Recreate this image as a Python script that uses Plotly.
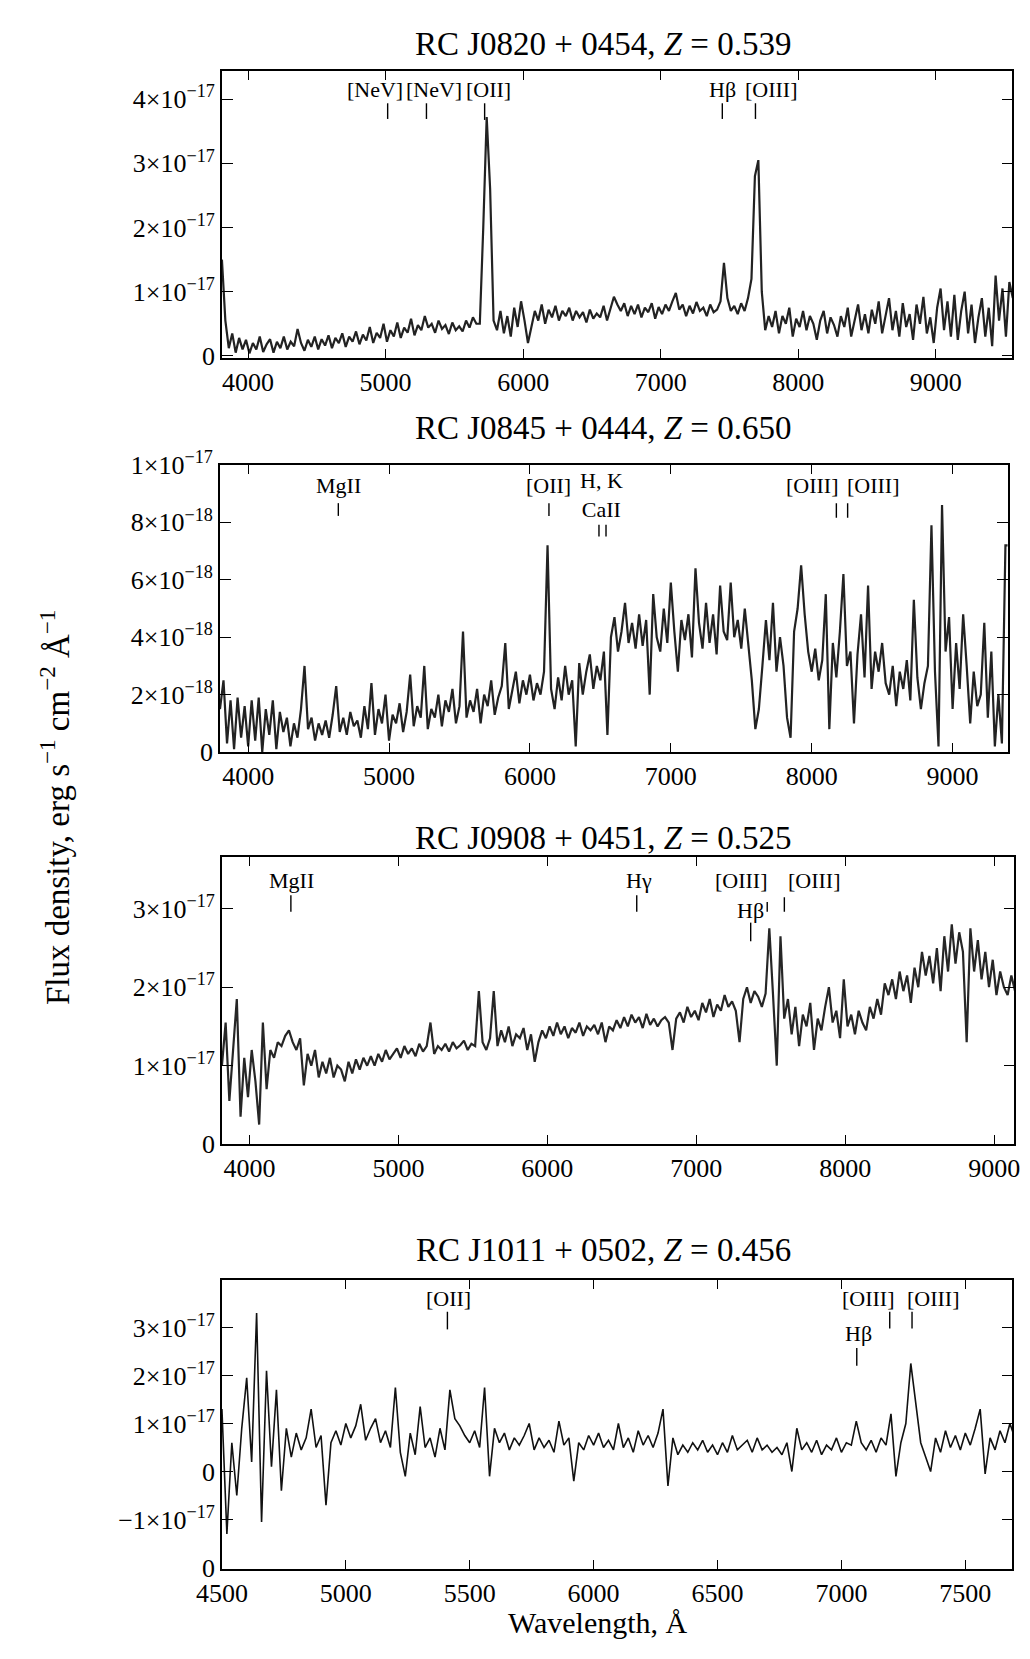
import numpy as np
import plotly.graph_objects as go

W, H = 1030, 1659
FONT = "Liberation Serif"

# ---------------- data ----------------
# Panel 1: RC J0820+0454, flux in 1e-17, grid start 3810 A, step 25 A
p1_start, p1_step = 3810, 25
p1_flux = [
    1.50, 0.55, 0.12, 0.35, 0.05, 0.28, 0.10, 0.25, 0.04, 0.20,
    0.10, 0.30, 0.06, 0.18, 0.26, 0.05, 0.22, 0.12, 0.30, 0.10,
    0.22, 0.15, 0.42, 0.20, 0.08, 0.25, 0.14, 0.30, 0.10, 0.26,
    0.16, 0.32, 0.12, 0.28, 0.20, 0.35, 0.14, 0.30, 0.22, 0.38,
    0.18, 0.33, 0.24, 0.45, 0.20, 0.36, 0.28, 0.50, 0.22, 0.40,
    0.30, 0.52, 0.28, 0.44, 0.36, 0.58, 0.32, 0.48, 0.40, 0.62,
    0.44, 0.50, 0.36, 0.55, 0.42, 0.48, 0.34, 0.52, 0.40, 0.46,
    0.38, 0.55, 0.44, 0.60, 0.50, 0.50, 2.00, 3.72, 2.60, 0.55,
    0.40, 0.70, 0.35, 0.62, 0.30, 0.75, 0.45, 0.85, 0.55, 0.20,
    0.45, 0.70, 0.55, 0.80, 0.50, 0.72, 0.60, 0.78, 0.55, 0.70,
    0.62, 0.75, 0.55, 0.70, 0.60, 0.68, 0.52, 0.72, 0.58, 0.66,
    0.60, 0.78, 0.55, 0.72, 0.92, 0.80, 0.70, 0.82, 0.62, 0.78,
    0.65, 0.80, 0.60, 0.75, 0.68, 0.82, 0.58, 0.76, 0.65, 0.80,
    0.70, 0.85, 0.98, 0.72, 0.80, 0.62, 0.78, 0.66, 0.84, 0.70,
    0.75, 0.62, 0.80, 0.68, 0.72, 0.85, 1.45, 0.90, 0.70, 0.78,
    0.65, 0.82, 0.70, 0.90, 1.20, 2.80, 3.05, 1.00, 0.40, 0.62,
    0.45, 0.70, 0.35, 0.62, 0.50, 0.75, 0.30, 0.58, 0.45, 0.70,
    0.40, 0.62, 0.50, 0.25, 0.55, 0.70, 0.35, 0.60, 0.48, 0.30,
    0.62, 0.45, 0.75, 0.30, 0.58, 0.80, 0.40, 0.65, 0.35, 0.72,
    0.50, 0.85, 0.35, 0.60, 0.90, 0.40, 0.70, 0.30, 0.82, 0.45,
    0.65, 0.25, 0.80, 0.50, 0.92, 0.35, 0.60, 0.20, 0.75, 1.05,
    0.40, 0.85, 0.30, 0.95, 0.25, 0.70, 1.00, 0.35, 0.80, 0.20,
    0.60, 0.90, 0.30, 0.75, 0.15, 1.25, 0.55, 1.05, 0.30, 1.15,
    0.90,
]
p1_lines_wl = [5015, 5297, 5720, 7448, 7689]

# Panel 2: RC J0845+0444, flux in 1e-18, grid start 3800 A, step 25 A
p2_start, p2_step = 3800, 25
p2_flux = [
    1.5, 2.5, 0.3, 1.8, 0.1, 1.9, 0.5, 1.6, 0.2, 1.8,
    0.4, 1.9, 0.0, 1.5, 0.6, 1.8, 0.1, 1.4, 0.7, 1.2,
    0.2, 1.0, 0.5, 1.5, 3.0, 0.8, 1.2, 0.4, 1.0, 0.6,
    1.1, 0.5, 1.3, 2.3, 0.7, 1.2, 0.6, 1.4, 0.9, 1.1,
    0.5, 1.6, 0.8, 2.4, 0.6, 1.5, 1.0, 2.0, 0.4, 1.3,
    1.0, 1.7, 0.7, 1.4, 2.7, 0.9, 1.6, 1.2, 3.0, 0.8,
    1.5, 1.2, 2.0, 0.9, 1.8, 1.4, 2.2, 1.0, 1.6, 4.2,
    1.2, 1.8, 1.4, 2.2, 1.0, 2.0, 1.6, 2.5, 1.3, 1.9,
    2.3, 3.8, 1.5, 2.2, 2.8, 1.7, 2.5, 2.0, 2.7, 1.8,
    2.4, 2.0, 2.8, 7.2, 2.2, 1.5, 2.6, 1.8, 3.0, 2.0,
    2.5, 0.2, 3.1, 2.0, 2.8, 3.4, 2.2, 3.0, 2.5, 3.5,
    0.6, 4.0, 4.7, 3.5, 4.2, 5.2, 3.8, 4.5, 3.6, 4.8,
    3.7, 4.6, 2.0, 5.5, 4.0, 3.5, 5.0, 3.8, 5.9, 4.2,
    2.8, 4.6, 3.9, 4.8, 3.3, 6.4, 4.5, 3.6, 5.2, 3.8,
    4.8, 3.4, 5.8, 4.2, 3.9, 5.9, 4.0, 4.6, 3.6, 5.0,
    3.8, 2.5, 0.8, 1.5, 3.0, 4.6, 3.2, 5.2, 2.8, 4.0,
    3.0, 1.2, 0.5, 4.2, 5.0, 6.5, 4.8, 3.5, 2.8, 3.6,
    2.5, 3.2, 5.5, 0.8, 3.8, 2.6, 4.2, 6.2, 3.0, 3.5,
    1.0, 3.4, 4.8, 2.6, 5.8, 2.2, 3.5, 2.8, 3.8, 2.4,
    2.0, 3.0, 1.6, 2.8, 2.2, 3.2, 1.8, 5.3, 2.6, 1.5,
    2.4, 3.0, 7.9, 2.8, 0.2, 8.6, 3.5, 4.7, 1.5, 3.8,
    2.2, 4.8, 3.0, 1.0, 2.8, 1.6, 2.0, 4.5, 1.2, 3.5,
    0.2, 2.0, 0.3, 7.2, 7.2,
]
p2_lines_wl = [4640, 6135, 6490, 6540, 8175, 8255]

# Panel 3: RC J0908+0451, flux in 1e-17, grid start 3815 A, step 25 A
p3_start, p3_step = 3815, 25
p3_flux = [
    1.00, 1.55, 0.55, 1.20, 1.85, 0.35, 1.10, 0.60, 1.20, 0.80,
    0.25, 1.55, 0.70, 1.20, 1.10, 1.30, 1.25, 1.38, 1.45, 1.30,
    1.20, 1.35, 0.75, 1.15, 1.00, 1.20, 0.85, 1.05, 0.90, 1.10,
    0.85, 1.00, 0.95, 0.80, 1.05, 0.90, 1.08, 0.95, 1.10, 1.00,
    1.12, 1.00, 1.15, 1.05, 1.20, 1.08, 1.15, 1.22, 1.10, 1.25,
    1.15, 1.22, 1.12, 1.28, 1.18, 1.25, 1.55, 1.15, 1.25, 1.20,
    1.28, 1.18, 1.30, 1.22, 1.26, 1.32, 1.20, 1.28, 1.25, 1.95,
    1.30, 1.20, 1.35, 1.95, 1.25, 1.45, 1.30, 1.50, 1.25, 1.40,
    1.35, 1.48, 1.20, 1.40, 1.05, 1.30, 1.45, 1.35, 1.50, 1.38,
    1.55, 1.40, 1.50, 1.35, 1.48, 1.42, 1.55, 1.38, 1.50, 1.45,
    1.52, 1.40, 1.55, 1.30, 1.50, 1.45, 1.58, 1.48, 1.62, 1.50,
    1.65, 1.55, 1.62, 1.48, 1.66, 1.52, 1.60, 1.50, 1.58, 1.62,
    1.55, 1.20, 1.60, 1.68, 1.55, 1.75, 1.62, 1.70, 1.58, 1.80,
    1.68, 1.85, 1.62, 1.78, 1.70, 1.90, 1.75, 1.82, 1.70, 1.30,
    1.85, 2.00, 1.80, 1.95, 1.88, 1.75, 1.92, 2.75, 1.90, 1.00,
    2.65, 1.60, 1.85, 1.40, 1.75, 1.25, 1.65, 1.50, 1.80, 1.20,
    1.60, 1.45, 1.75, 2.00, 1.55, 1.70, 1.35, 2.10, 1.50, 1.65,
    1.40, 1.70, 1.55, 1.45, 1.75, 1.60, 1.85, 1.65, 2.05, 1.90,
    2.10, 1.85, 2.20, 1.95, 2.15, 1.80, 2.25, 2.00, 2.45, 2.15,
    2.40, 2.05, 2.50, 1.95, 2.65, 2.20, 2.80, 2.30, 2.70, 2.45,
    1.30, 2.75, 2.20, 2.60, 2.10, 2.45, 2.00, 2.35, 1.90, 2.20,
    2.00, 1.90, 2.15, 1.95,
]
p3_lines_wl = [4278, 6600, 7365, 7476, 7591]

# Panel 4: RC J1011+0502, flux in 1e-17, grid start 4500 A, step 20 A
p4_start, p4_step = 4500, 20
p4_flux = [
    1.30, -1.30, 0.60, -0.50, 0.90, 1.95, 0.20, 3.30, -1.05, 2.10,
    0.10, 1.70, -0.40, 0.90, 0.30, 0.80, 0.45, 0.70, 1.30, 0.50,
    0.75, -0.70, 0.60, 0.85, 0.55, 1.00, 0.70, 0.95, 1.40, 0.65,
    0.90, 1.10, 0.60, 0.85, 0.50, 1.75, 0.40, -0.10, 0.80, 0.35,
    1.35, 0.50, 0.70, 0.30, 0.90, 0.45, 1.70, 1.10, 0.95, 0.75,
    0.60, 0.85, 0.50, 1.75, -0.10, 0.90, 0.60, 0.80, 0.45, 0.70,
    0.55, 0.75, 1.00, 0.45, 0.70, 0.50, 0.65, 0.40, 1.05, 0.55,
    0.70, -0.20, 0.60, 0.45, 0.75, 0.55, 0.80, 0.50, 0.65, 0.45,
    1.00, 0.50, 0.70, 0.40, 0.85, 0.55, 0.75, 0.50, 0.80, 1.30,
    -0.30, 0.70, 0.35, 0.55, 0.40, 0.60, 0.45, 0.65, 0.40, 0.55,
    0.35, 0.60, 0.40, 0.75, 0.45, 0.55, 0.65, 0.40, 0.70, 0.45,
    0.55, 0.40, 0.50, 0.35, 0.60, 0.00, 0.90, 0.45, 0.60, 0.40,
    0.65, 0.35, 0.55, 0.45, 0.70, 0.40, 0.60, 0.55, 1.05, 0.60,
    0.45, 0.65, 0.40, 0.70, 0.55, 1.20, -0.10, 0.60, 1.00, 2.25,
    1.40, 0.60, 0.30, 0.00, 0.70, 0.40, 0.85, 0.50, 0.75, 0.45,
    0.80, 0.55, 0.90, 1.30, -0.05, 0.70, 0.45, 0.85, 0.60, 1.00,
    0.70,
]
p4_lines_wl = [5410, 7062, 7195, 7285]

titles = [
    "RC J0820 + 0454, <i>Z</i> = 0.539",
    "RC J0845 + 0444, <i>Z</i> = 0.650",
    "RC J0908 + 0451, <i>Z</i> = 0.525",
    "RC J1011 + 0502, <i>Z</i> = 0.456",
]


def sci(m, e):
    return f"{m}×10<sup>−{e}</sup>"


# ---------------- layout helpers ----------------
def fx(p):
    return p / W


def fy(p):
    return 1 - p / H


panels = [
    dict(flux=p1_flux, start=p1_start, step=p1_step, box=(202, 1017, 54, 347),
         xr=[3810, 9557], yr=[-0.035, 4.44],
         xt=[4000, 5000, 6000, 7000, 8000, 9000],
         yt=[0, 1, 2, 3, 4], ytt=["0", sci(1, 17), sci(2, 17), sci(3, 17), sci(4, 17)],
         title_y=27, lw=2.2, lc="#222222"),
    dict(flux=p2_flux, start=p2_start, step=p2_step, box=(200, 1012, 456, 749),
         xr=[3800, 9390], yr=[0, 10.0],
         xt=[4000, 5000, 6000, 7000, 8000, 9000],
         yt=[0, 2, 4, 6, 8, 10],
         ytt=["0", sci(2, 18), sci(4, 18), sci(6, 18), sci(8, 18), sci(1, 17)],
         title_y=418, lw=2.2, lc="#222222"),
    dict(flux=p3_flux, start=p3_start, step=p3_step, box=(202, 1019, 856, 1149),
         xr=[3815, 9135], yr=[0, 3.66],
         xt=[4000, 5000, 6000, 7000, 8000, 9000],
         yt=[0, 1, 2, 3], ytt=["0", sci(1, 17), sci(2, 17), sci(3, 17)],
         title_y=837, lw=2.2, lc="#262626"),
    dict(flux=p4_flux, start=p4_start, step=p4_step, box=(202, 1017, 1288, 1582),
         xr=[4500, 7690], yr=[-2.02, 3.98],
         xt=[4500, 5000, 5500, 6000, 6500, 7000, 7500],
         yt=[-2, -1, 0, 1, 2, 3],
         ytt=["0", "−" + sci(1, 17), "0", sci(1, 17), sci(2, 17), sci(3, 17)],
         title_y=1257, lw=1.6, lc="#111111"),
]

# line markers: (panel, marker wavelength, marker top px, marker bottom px)
markers = [
    (0, p1_lines_wl[0], 87, 103), (0, p1_lines_wl[1], 87, 103), (0, p1_lines_wl[2], 87, 104),
    (0, p1_lines_wl[3], 87, 103), (0, p1_lines_wl[4], 87, 103),
    (1, p2_lines_wl[0], 495, 508), (1, p2_lines_wl[1], 495, 508),
    (1, p2_lines_wl[2], 517, 529), (1, p2_lines_wl[3], 517, 529),
    (1, p2_lines_wl[4], 495, 510), (1, p2_lines_wl[5], 495, 510),
    (2, p3_lines_wl[0], 895, 912), (2, p3_lines_wl[1], 895, 912),
    (2, p3_lines_wl[2], 923, 942), (2, p3_lines_wl[3], 902, 912),
    (2, p3_lines_wl[4], 897, 912),
    (3, p4_lines_wl[0], 1320, 1338), (3, p4_lines_wl[1], 1357, 1375),
    (3, p4_lines_wl[2], 1320, 1337), (3, p4_lines_wl[3], 1320, 1337),
]
# text labels: (panel, text, x in wavelength, y centre px)
labels = [
    (0, "[NeV]", 4924, 73), (0, "[NeV]", 5350, 73), (0, "[OII]", 5748, 73),
    (0, "Hβ", 7448, 73), (0, "[OIII]", 7808, 73),
    (1, "MgII", 4640, 477), (1, "[OII]", 6135, 477), (1, "H, K<br>CaII", 6510, 487),
    (1, "[OIII]", 8007, 477), (1, "[OIII]", 8440, 477),
    (2, "MgII", 4282, 880), (2, "Hγ", 6617, 880), (2, "[OIII]", 7305, 880),
    (2, "Hβ", 7365, 911), (2, "[OIII]", 7792, 880),
    (3, "[OII]", 5413, 1306), (3, "[OIII]", 7110, 1306), (3, "[OIII]", 7372, 1306),
    (3, "Hβ", 7067, 1342),
]

fig = go.Figure()
layout = dict(
    width=W, height=H, margin=dict(l=0, r=0, t=0, b=0),
    paper_bgcolor="white", plot_bgcolor="white", showlegend=False,
    font=dict(family=FONT, color="black"),
)
annotations = []
shapes = []

for i, p in enumerate(panels):
    n = i + 1
    xs = "" if n == 1 else str(n)
    wl = p["start"] + p["step"] * np.arange(len(p["flux"]))
    fig.add_trace(go.Scatter(
        x=wl, y=p["flux"], mode="lines", xaxis="x" + xs, yaxis="y" + xs,
        line=dict(color=p["lc"], width=p["lw"]), hoverinfo="skip"))
    l, r, t, b = p["box"]
    axcommon = dict(showgrid=False, zeroline=False, showline=True, linecolor="black",
                    linewidth=1.6, mirror="ticks", ticks="inside", tickcolor="black",
                    tickwidth=1.4, tickfont=dict(family=FONT, size=26, color="black"))
    layout["xaxis" + xs] = dict(axcommon, domain=[fx(l), fx(r)], anchor="y" + xs,
                                range=p["xr"], tickvals=p["xt"], ticklen=9)
    layout["yaxis" + xs] = dict(axcommon, domain=[fy(b), fy(t)], anchor="x" + xs,
                                range=p["yr"], tickvals=p["yt"], ticktext=p["ytt"],
                                ticklen=11)
    annotations.append(dict(text=titles[i], x=fx(595), y=fy(p["title_y"]), xref="paper",
                            yref="paper", showarrow=False, xanchor="center",
                            yanchor="middle", font=dict(family=FONT, size=33)))

for (pi, wlm, y0, y1) in markers:
    xs = "" if pi == 0 else str(pi + 1)
    shapes.append(dict(type="line", xref="x" + xs, yref="paper", x0=wlm, x1=wlm,
                       y0=fy(y0), y1=fy(y1), line=dict(color="black", width=1.4)))

for (pi, txt, wlx, yc) in labels:
    xs = "" if pi == 0 else str(pi + 1)
    annotations.append(dict(text=txt, x=wlx, y=fy(yc), xref="x" + xs, yref="paper",
                            showarrow=False, xanchor="center", yanchor="middle",
                            font=dict(family=FONT, size=22)))

annotations.append(dict(text="Wavelength, Å", x=fx(590), y=fy(1637), xref="paper",
                        yref="paper", showarrow=False, xanchor="center", yanchor="middle",
                        font=dict(family=FONT, size=30)))
annotations.append(dict(text="Flux density, erg s<sup>−1</sup> cm<sup>−2</sup> Å<sup>−1</sup>",
                        x=fx(30), y=fy(805), xref="paper", yref="paper", showarrow=False,
                        textangle=-90, xanchor="center", yanchor="middle",
                        font=dict(family=FONT, size=33)))

layout["annotations"] = annotations
layout["shapes"] = shapes
fig.update_layout(**layout)
fig.write_html("out.html")
